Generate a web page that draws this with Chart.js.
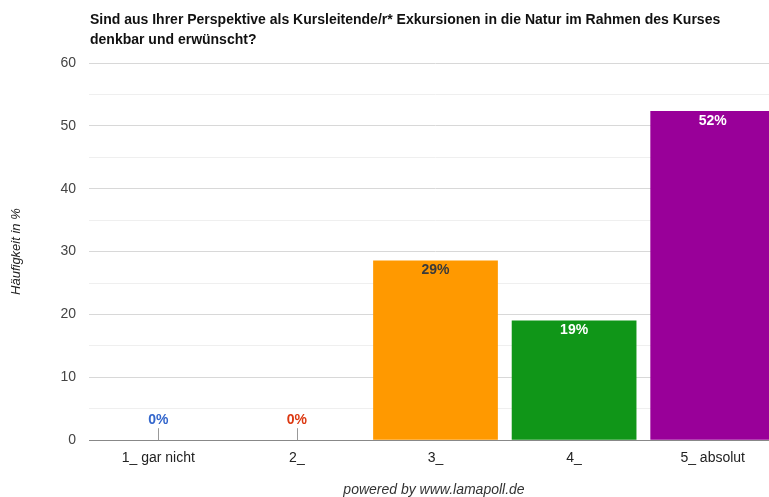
<!DOCTYPE html>
<html>
<head>
<meta charset="utf-8">
<script src="https://cdn.jsdelivr.net/npm/chart.js@4/dist/chart.umd.min.js"></script>
<style>
  html, body { margin: 0; padding: 0; background: #fff; overflow: hidden; }
  #wrap { position: relative; width: 782px; height: 497px; }
</style>
</head>
<body>
<div id="wrap"><canvas id="chart"></canvas></div>
<script>
const categories = ['1_ gar nicht', '2_', '3_', '4_', '5_ absolut'];
const shares = [0, 0, 28.57, 19.05, 52.38];
const barColors = ['#3366cc', '#dc3912', '#ff9900', '#109618', '#990099'];
const labelColors = ['#3366cc', '#dc3912', '#3a3a3a', '#ffffff', '#ffffff'];
const titleLines = [
  'Sind aus Ihrer Perspektive als Kursleitende/r* Exkursionen in die Natur im Rahmen des Kurses',
  'denkbar und erwünscht?'
];
const footerText = 'powered by www.lamapoll.de';

const FONT = 'Arial, "Liberation Sans", sans-serif';

// percentage labels on the bars, stems for the empty categories, title and footer
const annotate = {
  id: 'annotate',
  afterDatasetsDraw(chart) {
    const { ctx, scales: { y } } = chart;
    const base = y.getPixelForValue(0);
    ctx.save();
    ctx.font = 'bold 14px ' + FONT;
    ctx.textAlign = 'center';
    chart.getDatasetMeta(0).data.forEach((bar, i) => {
      const v = shares[i];
      const txt = Math.round(v) + '%';
      ctx.fillStyle = labelColors[i];
      if (v === 0) {
        ctx.strokeStyle = '#999';
        ctx.lineWidth = 1;
        ctx.beginPath();
        ctx.moveTo(Math.round(bar.x) + 0.5, base);
        ctx.lineTo(Math.round(bar.x) + 0.5, base - 12);
        ctx.stroke();
        ctx.textBaseline = 'middle';
        ctx.fillText(txt, bar.x, base - 20);
      } else {
        ctx.textBaseline = 'middle';
        ctx.fillText(txt, bar.x, bar.y + 10);
      }
    });
    ctx.restore();
  },
  afterDraw(chart) {
    const { ctx, chartArea } = chart;
    ctx.save();
    ctx.fillStyle = '#111';
    ctx.font = 'bold 14px ' + FONT;
    ctx.textAlign = 'left';
    ctx.textBaseline = 'middle';
    titleLines.forEach((line, i) => ctx.fillText(line, chartArea.left + 1, 20 + i * 20));
    ctx.font = 'italic 14px ' + FONT;
    ctx.fillStyle = '#333';
    ctx.textAlign = 'center';
    ctx.fillText(footerText, 434, 490);
    ctx.restore();
  }
};

new Chart(document.getElementById('chart'), {
  type: 'bar',
  data: {
    labels: categories,
    datasets: [{
      data: shares,
      backgroundColor: barColors,
      borderWidth: 0,
      categoryPercentage: 1,
      barPercentage: 0.9
    }]
  },
  options: {
    responsive: true,
    maintainAspectRatio: false,
    animation: false,
    layout: { padding: { top: 63, bottom: 20, left: 0, right: 0 } },
    plugins: {
      legend: { display: false },
      tooltip: { enabled: false }
    },
    scales: {
      x: {
        grid: { display: false, drawTicks: false, tickLength: 0 },
        border: { display: true, color: '#888', width: 1 },
        ticks: { color: '#222', font: { family: FONT, size: 14 }, padding: 10 }
      },
      y: {
        min: 0,
        max: 60,
        afterFit: (s) => { s.width = 89; },
        border: { display: false },
        grid: {
          drawTicks: false,
          color: (c) => (c.tick && c.tick.value % 10 === 0 ? '#d8d8d8' : '#efefef')
        },
        ticks: {
          stepSize: 5,
          padding: 13,
          color: '#444',
          font: { family: FONT, size: 14 },
          callback: (v) => (v % 10 === 0 ? v : '')
        },
        title: {
          display: true,
          text: 'Häufigkeit in %',
          color: '#222',
          font: { family: FONT, size: 13, style: 'italic' },
          padding: { top: 9, bottom: 0 }
        }
      }
    }
  },
  plugins: [annotate]
});
</script>
</body>
</html>
